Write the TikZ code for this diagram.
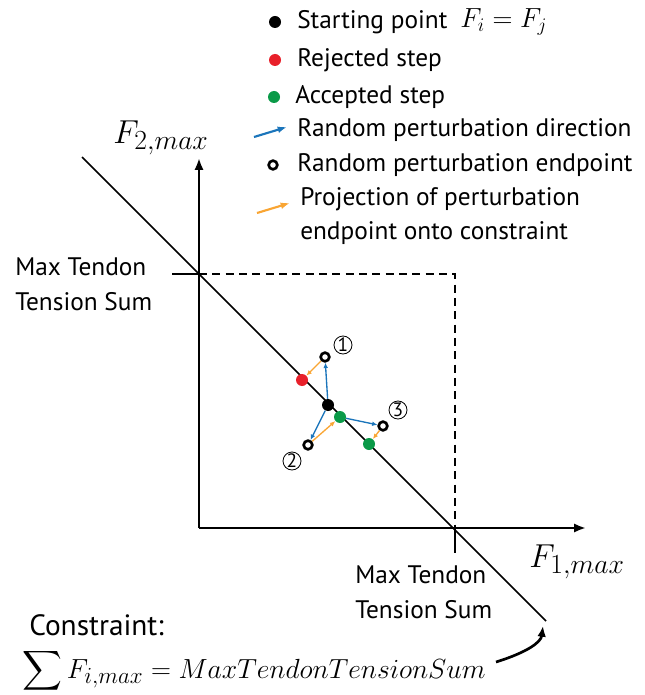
\documentclass[tikz,border=0pt]{standalone}
\usepackage{exscale}
\usepackage[no-math]{fontspec}
\setmainfont{PT Sans}
\usetikzlibrary{arrows.meta}
\definecolor{cred}{HTML}{E8202A}
\definecolor{cgreen}{HTML}{0A9A48}
\definecolor{cblue}{HTML}{1B75BB}
\definecolor{corange}{HTML}{F9A533}
\begin{document}
\begin{tikzpicture}[x=0.75pt,y=-0.75pt,
  txt/.style={font=\fontsize{19}{23}\selectfont, inner sep=0pt},
  mth/.style={font=\fontsize{22}{26}\selectfont, inner sep=0pt},
  axlab/.style={font=\fontsize{30}{34}\selectfont, inner sep=0pt},
  axis/.style={line width=2pt, -{Latex[length=9pt,width=7pt]}},
  fulldot/.style={circle, inner sep=0pt, minimum size=9pt},
  opendot/.style={circle, draw=black, line width=2pt, inner sep=0pt, minimum size=6.5pt},
  bluearr/.style={cblue, line width=1pt, -{Latex[length=4pt,width=3.5pt]}},
  orgarr/.style={corange, line width=1pt, -{Latex[length=4pt,width=3.5pt]}},
  lgblue/.style={cblue, line width=1.6pt, -{Latex[length=7pt,width=5pt]}},
  lgorg/.style={corange, line width=1.6pt, -{Latex[length=7pt,width=5pt]}},
  circnum/.style={circle, draw=black, line width=0.6pt, inner sep=0pt, minimum size=13.5pt, font=\fontsize{14.5}{16}\selectfont}
]
\path[use as bounding box] (0,0) rectangle (644,695);

% axes
\coordinate (O) at (199,528);
\coordinate (ytip) at (199,158);
\coordinate (xtip) at (586,528);
\draw[axis] (O) -- (ytip);
\draw[axis] (O) -- (xtip);

% constraint line
\coordinate (cl1) at (82,157);
\coordinate (cl2) at (546,621);
\draw[line width=1.3pt] (cl1) -- (cl2);

% ticks and dashed box
\coordinate (ty) at (199,274);
\coordinate (tyl) at (172,274);
\coordinate (tx) at (455,528);
\coordinate (txb) at (455,553);
\coordinate (corner) at (455,274);
\draw[line width=1.2pt] (tyl) -- (ty);
\draw[line width=1.2pt] (tx) -- (txb);
\draw[line width=1.2pt, dash pattern=on 6pt off 4pt] (ty) -- (corner) -- (tx);

% axis labels
\node[axlab] (f2) at (161,138) {$F_{2,max}$};
\node[axlab] (f1) at (577,562) {$F_{1,max}$};
\node[txt, align=left, anchor=west] (mtl) at (15,284) {Max Tendon\\[3pt]Tension Sum};
\node[txt, align=left, anchor=west] (mtb) at (355,592) {Max Tendon\\[3pt]Tension Sum};

% points
\node[fulldot, fill=black] (s) at (328,405) {};
\node[fulldot, fill=cred] (r) at (302,380) {};
\node[fulldot, fill=cgreen] (g1) at (340,417) {};
\node[fulldot, fill=cgreen] (g2) at (369,444) {};
\node[opendot] (p1) at (325,357) {};
\node[opendot] (p2) at (308,445) {};
\node[opendot] (p3) at (383,426) {};
\node[circnum] (n1) at (343,345) {1};
\node[circnum] (n2) at (292,461) {2};
\node[circnum] (n3) at (398,410) {3};

\draw[bluearr] (s) -- (p1);
\draw[bluearr] (s) -- (p2);
\draw[bluearr] (g1) -- (p3);
\draw[orgarr] (p1) -- (r);
\draw[orgarr] (p2) -- (g1);
\draw[orgarr] (p3) -- (g2);

% legend
\node[fulldot, fill=black] (l1) at (275,22) {};
\node[fulldot, fill=cred] (l2) at (275,60) {};
\node[fulldot, fill=cgreen] (l3) at (274,97) {};
\coordinate (l4a) at (254,137);
\coordinate (l4b) at (287,127);
\node[opendot] (l5) at (273,165) {};
\coordinate (l6a) at (257,213);
\coordinate (l6b) at (290,203);
\draw[lgblue] (l4a) -- (l4b);
\draw[lgorg] (l6a) -- (l6b);

\node[txt, anchor=west] (t1) at (297,22) {Starting point};
\node[mth, anchor=west] (t1m) at (460,22) {$F_i = F_j$};
\node[txt, anchor=west] (t2) at (297,60) {Rejected step};
\node[txt, anchor=west] (t3) at (295,97) {Accepted step};
\node[txt, anchor=west] (t4) at (297,130) {Random perturbation direction};
\node[txt, anchor=west] (t5) at (297,165) {Random perturbation endpoint};
\node[txt, anchor=west, align=left] (t6) at (300,216) {Projection of perturbation\\[3pt]endpoint onto constraint};

% constraint formula
\node[txt, anchor=base west, text depth=0pt, font=\fontsize{22}{26}\selectfont] (ct) at (29,635) {Constraint:};
\node[anchor=base west, inner sep=0pt, font=\fontsize{22.7}{26}\selectfont] (cf) at (22,678) {$\displaystyle\sum F_{i,max} = MaxTendonTensionSum$};
\coordinate (ca) at (496,662);
\coordinate (cb) at (543,626);
\draw[line width=2pt, -{Latex[length=8pt,width=6.5pt]}] (ca) .. controls (528,652) and (541,642) .. (cb);
\end{tikzpicture}
\end{document}
